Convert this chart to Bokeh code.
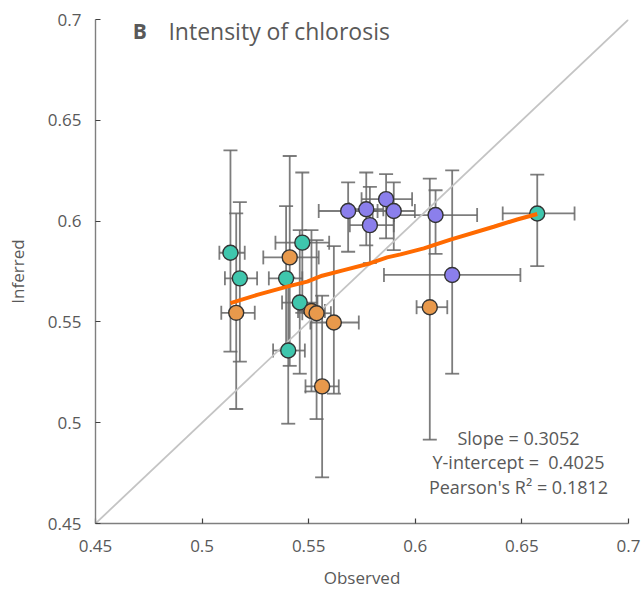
from bokeh.plotting import figure
from bokeh.models import ColumnDataSource, Whisker, TeeHead, Range1d, FixedTicker
from bokeh.core.properties import value
from bokeh.embed import file_html
from bokeh.resources import INLINE

# ---- data ----
teal_x    = [0.5133, 0.5177, 0.5394, 0.5470, 0.5458, 0.5404, 0.6572]
teal_y    = [0.5843, 0.5716, 0.5716, 0.5893, 0.5596, 0.5358, 0.6038]
teal_xlo  = [0.5081, 0.5107, 0.5313, 0.5344, 0.5375, 0.5333, 0.6410]
teal_xhi  = [0.5200, 0.5258, 0.5470, 0.5596, 0.5541, 0.5482, 0.6747]
teal_ylo  = [0.5353, 0.5303, 0.5360, 0.5545, 0.5243, 0.4995, 0.5777]
teal_yhi  = [0.6351, 0.6094, 0.6074, 0.6241, 0.5955, 0.5720, 0.6231]

orange_x   = [0.5160, 0.5411, 0.5513, 0.5537, 0.5618, 0.5563, 0.6068]
orange_y   = [0.5545, 0.5820, 0.5554, 0.5543, 0.5497, 0.5180, 0.5573]
orange_xlo = [0.5090, 0.5287, 0.5450, 0.5470, 0.5508, 0.5485, 0.6006]
orange_xhi = [0.5247, 0.5547, 0.5576, 0.5604, 0.5735, 0.5641, 0.6150]
orange_ylo = [0.5068, 0.5282, 0.5155, 0.5018, 0.5144, 0.4729, 0.4916]
orange_yhi = [0.6038, 0.6323, 0.5955, 0.5906, 0.5876, 0.5630, 0.6211]

purple_x   = [0.5685, 0.5770, 0.5863, 0.5899, 0.5787, 0.6095, 0.6173]
purple_y   = [0.6050, 0.6059, 0.6109, 0.6050, 0.5980, 0.6030, 0.5733]
purple_xlo = [0.5547, 0.5690, 0.5748, 0.5800, 0.5693, 0.5900, 0.5853]
purple_xhi = [0.5823, 0.5850, 0.5985, 0.5998, 0.5899, 0.6290, 0.6493]
purple_ylo = [0.5848, 0.5880, 0.5914, 0.5856, 0.5792, 0.5837, 0.5243]
purple_yhi = [0.6192, 0.6241, 0.6233, 0.6192, 0.6170, 0.6153, 0.6252]

trend_x = [0.5133, 0.5258, 0.5399, 0.5493, 0.5563, 0.5665, 0.5790,
           0.5868, 0.5931, 0.6040, 0.6165, 0.6368, 0.6478, 0.6572]
trend_y = [0.5593, 0.5634, 0.5675, 0.5700, 0.5729, 0.5757, 0.5791,
           0.5820, 0.5835, 0.5865, 0.5908, 0.5972, 0.6008, 0.6035]

diag = [0.45, 0.70]

tick_values = [0.45, 0.5, 0.55, 0.6, 0.65, 0.7]
tick_labels = ["0.45", "0.5", "0.55", "0.6", "0.65", "0.7"]

title_letter = "B"
title_text = "Intensity of chlorosis"
stats_lines = ["Slope = 0.3052", "Y-intercept =\u00a0 0.4025", "Pearson's R\u00b2 = 0.1812"]
x_label = "Observed"
y_label = "Inferred"

# ---- styles ----
FONT = "Open Sans"
TXT = "#595959"
AX = "#7f7f7f"
ERR = "#666666"

p = figure(width=641, height=591, output_backend="svg", toolbar_location=None,
           x_range=Range1d(0.45, 0.7), y_range=Range1d(0.45, 0.7),
           min_border_left=95, min_border_right=13, min_border_top=19,
           min_border_bottom=67)
p.outline_line_color = None
p.grid.grid_line_color = None
p.background_fill_color = "white"
p.border_fill_color = "white"

for ax in (p.xaxis[0], p.yaxis[0]):
    ax.ticker = FixedTicker(ticks=tick_values)
    ax.major_label_overrides = {v: l for v, l in zip(tick_values, tick_labels)}
    ax.axis_line_color = AX
    ax.axis_line_width = 1.4
    ax.major_tick_line_color = "#404040"
    ax.major_tick_line_width = 1.2
    ax.major_tick_in = 5
    ax.major_tick_out = 0
    ax.minor_tick_line_color = None
    ax.major_label_text_font = FONT
    ax.major_label_text_font_size = "17px"
    ax.major_label_text_color = TXT
    ax.axis_label_text_font = FONT
    ax.axis_label_text_font_size = "17px"
    ax.axis_label_text_color = TXT
    ax.axis_label_text_font_style = "normal"

p.xaxis.axis_label = x_label
p.yaxis.axis_label = y_label
p.xaxis.major_label_standoff = 16
p.yaxis.major_label_standoff = 14
p.xaxis.axis_label_standoff = 11
p.yaxis.axis_label_standoff = 16

# 1:1 line
p.line(diag, diag, line_color="#c4c4c4", line_width=1.8)

series = [
    (teal_x, teal_y, teal_xlo, teal_xhi, teal_ylo, teal_yhi, "#3fc6ad"),
    (orange_x, orange_y, orange_xlo, orange_xhi, orange_ylo, orange_yhi, "#e8994c"),
    (purple_x, purple_y, purple_xlo, purple_xhi, purple_ylo, purple_yhi, "#8b7fec"),
]

for xs, ys, xlo, xhi, ylo, yhi, col in series:
    src = ColumnDataSource(dict(x=xs, y=ys, xlo=xlo, xhi=xhi, ylo=ylo, yhi=yhi))
    for base, lo, hi, dim in (("x", "ylo", "yhi", "height"), ("y", "xlo", "xhi", "width")):
        w = Whisker(source=src, base=base, lower=lo, upper=hi, dimension=dim,
                    line_color=ERR, line_width=1.8, line_alpha=0.85, level="underlay",
                    upper_head=TeeHead(size=14, line_color=ERR, line_width=1.8, line_alpha=0.85),
                    lower_head=TeeHead(size=14, line_color=ERR, line_width=1.8, line_alpha=0.85))
        p.add_layout(w)

for xs, ys, xlo, xhi, ylo, yhi, col in series:
    p.scatter(xs, ys, size=15, fill_color=col, line_color="#333333", line_width=1.4)

p.line(trend_x, trend_y, line_color="#ff6a00", line_width=4)

# title
p.text(x=[0.4675], y=[0.6945], text=[title_letter], text_font=value(FONT),
       text_font_size="21px", text_font_style="bold", text_color=TXT,
       text_baseline="middle", text_align="left")
p.text(x=[0.4842], y=[0.6945], text=[title_text], text_font=value(FONT),
       text_font_size="23px", text_color=TXT, text_baseline="middle", text_align="left")

# stats
p.text(x=[0.6484] * 3, y=[0.4926, 0.4807, 0.4683], text=stats_lines,
       text_font=value(FONT), text_font_size="18px", text_color=TXT,
       text_baseline="middle", text_align="center")

open("out.html", "w").write(file_html(p, INLINE))
